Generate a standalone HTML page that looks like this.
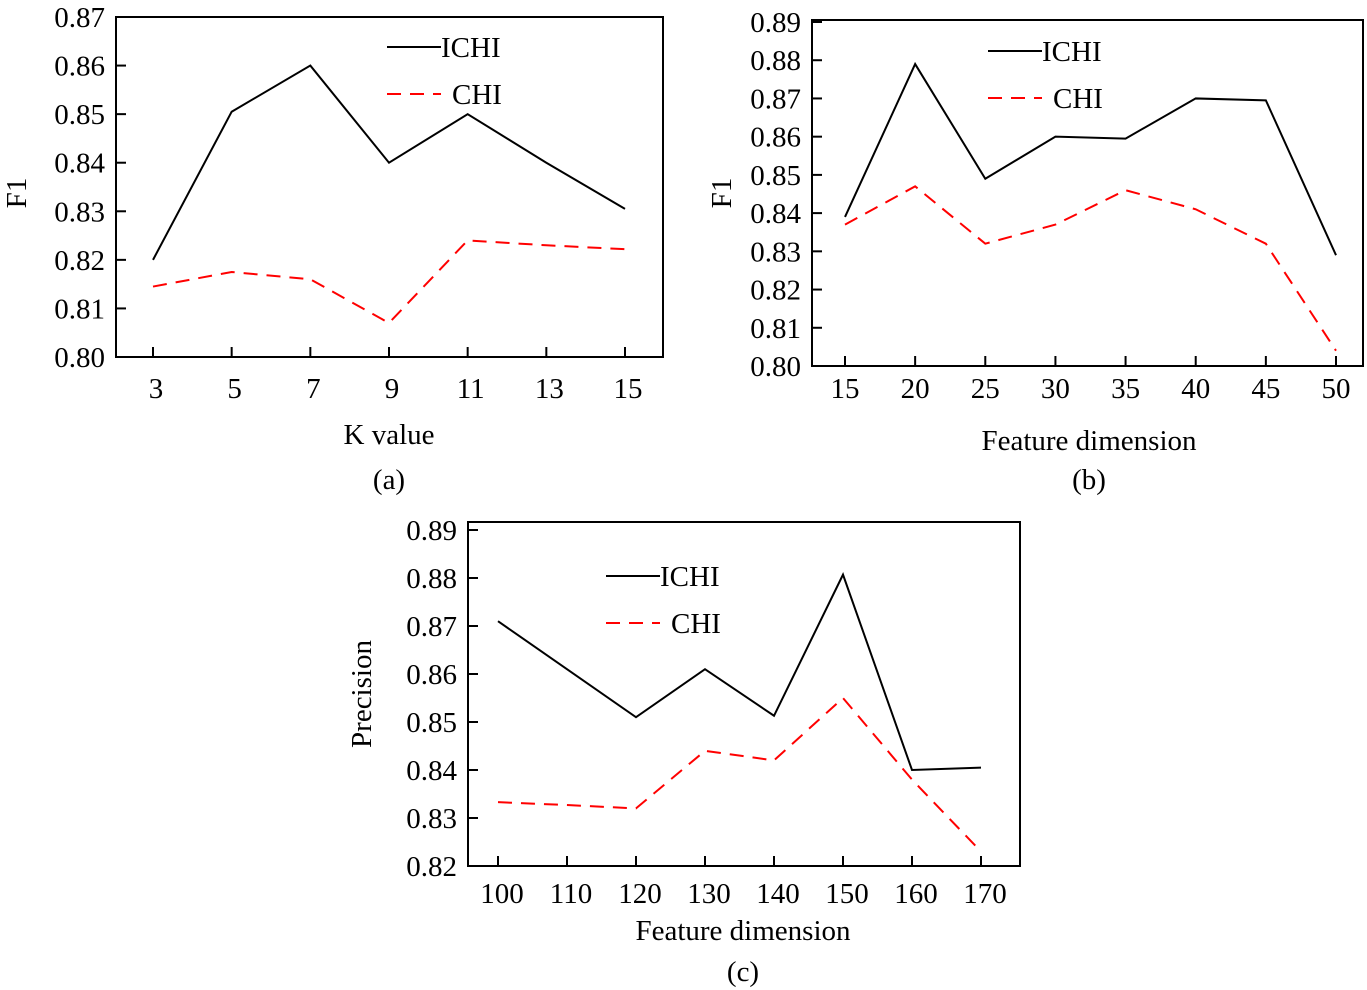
<!DOCTYPE html>
<html><head><meta charset="utf-8">
<style>
html,body{margin:0;padding:0;background:#fff;}
svg{display:block;font-family:"Liberation Serif","Times New Roman",serif;}
</style></head>
<body>
<svg id="fig" width="1367" height="990" viewBox="0 0 1367 990" xmlns="http://www.w3.org/2000/svg"></svg>
<script>
// Chart (a)
const aCategories = [3,5,7,9,11,13,15];
const aIchi = [0.820,0.8505,0.860,0.840,0.850,0.840,0.8305];
const aChi  = [0.8145,0.8175,0.816,0.807,0.824,0.823,0.8222];
const aYTicks = ["0.80","0.81","0.82","0.83","0.84","0.85","0.86","0.87"];
// Chart (b)
const bCategories = [15,20,25,30,35,40,45,50];
const bIchi = [0.839,0.879,0.849,0.860,0.8595,0.870,0.8695,0.829];
const bChi  = [0.837,0.847,0.832,0.837,0.846,0.841,0.832,0.804];
const bYTicks = ["0.80","0.81","0.82","0.83","0.84","0.85","0.86","0.87","0.88","0.89"];
// Chart (c)
const cCategories = [100,110,120,130,140,150,160,170];
const cIchi = [0.871,0.861,0.851,0.861,0.8513,0.8807,0.840,0.8405];
const cChi  = [0.8333,0.8327,0.832,0.844,0.842,0.855,0.838,0.823];
const cYTicks = ["0.82","0.83","0.84","0.85","0.86","0.87","0.88","0.89"];

const NS="http://www.w3.org/2000/svg";
const svg=document.getElementById('fig');
const FS=29;
function mk(tag,attrs,parent,text){
  const e=document.createElementNS(NS,tag);
  for(const k in attrs) e.setAttribute(k,attrs[k]);
  if(text!==undefined) e.textContent=text;
  (parent||svg).appendChild(e);
  return e;
}
function chart(cfg){
  const g=mk('g',{});
  
  
  const {L,R,T,B,x0,x1}=cfg;
  const ymin=parseFloat(cfg.yTicks[0]), ymax=parseFloat(cfg.yTicks[cfg.yTicks.length-1]);
  const ys=v=>B-(v-ymin)/(ymax-ymin)*(B-T-cfg.topPad);
  const n=cfg.cats.length;
  const xs=i=>x0+(x1-x0)*i/(n-1);
  const box=mk('rect',{x:L,y:T,width:R-L,height:B-T,fill:'none',stroke:'#000','stroke-width':2},g);
  
  
  cfg.yTicks.forEach((t,i)=>{
    const y=ys(parseFloat(t));
    const tk=mk('line',{x1:L,x2:L+10,y1:y,y2:y,stroke:'#000','stroke-width':2},g);
    
    
    const lb=mk('text',{x:L-11,y:y+10,'text-anchor':'end','font-size':FS},g,t);
    
    
  });
  cfg.cats.forEach((c,i)=>{
    const x=xs(i);
    const tk=mk('line',{x1:x,x2:x,y1:B,y2:B-10,stroke:'#000','stroke-width':2},g);
    
    
    const lb=mk('text',{x:x+cfg.xlDx,y:B+cfg.xlDy,'text-anchor':'middle','font-size':FS},g,String(c));
    
    
  });
  const p1=mk('polyline',{points:cfg.ichi.map((v,i)=>xs(i)+','+ys(v)).join(' '),fill:'none',stroke:'#000','stroke-width':2},g);
  
  
  const p2=mk('polyline',{points:cfg.chi.map((v,i)=>xs(i)+','+ys(v)).join(' '),fill:'none',stroke:'#f00','stroke-width':2,'stroke-dasharray':'14,9'},g);
  
  
  const lx=cfg.legX, ly=cfg.legY;
  const l1=mk('line',{x1:lx,x2:lx+54,y1:ly,y2:ly,stroke:'#000','stroke-width':2},g);
  
  
  const t1=mk('text',{x:lx+54,y:ly+10,'font-size':FS},g,'ICHI');
  
  
  const l2=mk('line',{x1:lx,x2:lx+54,y1:ly+47,y2:ly+47,stroke:'#f00','stroke-width':2,'stroke-dasharray':'14,9'},g);
  
  
  const t2=mk('text',{x:lx+65,y:ly+57,'font-size':FS},g,'CHI');
  
  
  const yt=mk('text',{x:0,y:0,'font-size':FS,'text-anchor':'middle',transform:`translate(${cfg.yTitleX},${cfg.yTitleY}) rotate(-90)`},g,cfg.yTitle);
  
  
  const xt=mk('text',{x:cfg.xTitleX,y:cfg.xTitleY,'font-size':FS,'text-anchor':'middle'},g,cfg.xTitle);
  
  
  const cp=mk('text',{x:cfg.capX,y:cfg.capY,'font-size':FS,'text-anchor':'middle'},g,cfg.cap);
  
  
}
chart({name:'chart-a',L:116,R:663,T:17,B:357,topPad:0,x0:153,x1:625,xlDx:3,xlDy:41,cats:aCategories,ichi:aIchi,chi:aChi,yTicks:aYTicks,
  legX:387,legY:47,yTitle:'F1',yTitleX:26,yTitleY:193,xTitle:'K value',xTitleX:389,xTitleY:444,cap:'(a)',capX:389,capY:489});
chart({name:'chart-b',L:812,R:1363,T:20,B:366,topPad:2,x0:845,x1:1336,xlDx:0,xlDy:32,cats:bCategories,ichi:bIchi,chi:bChi,yTicks:bYTicks,
  legX:988,legY:51,yTitle:'F1',yTitleX:731,yTitleY:193,xTitle:'Feature dimension',xTitleX:1089,xTitleY:450,cap:'(b)',capX:1089,capY:489});
chart({name:'chart-c',L:468,R:1020,T:522,B:866,topPad:8,x0:498,x1:981,xlDx:4,xlDy:37,cats:cCategories,ichi:cIchi,chi:cChi,yTicks:cYTicks,
  legX:606,legY:576,yTitle:'Precision',yTitleX:371,yTitleY:694,xTitle:'Feature dimension',xTitleX:743,xTitleY:940,cap:'(c)',capX:743,capY:981});
</script>
</body></html>
